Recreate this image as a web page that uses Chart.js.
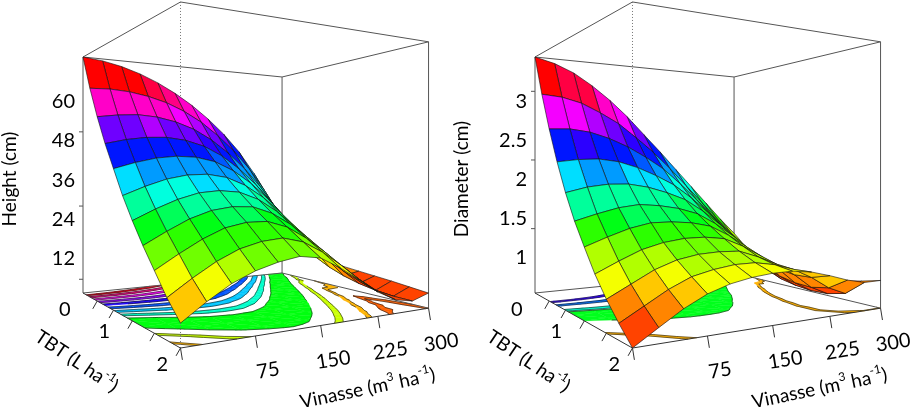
<!DOCTYPE html>
<html>
<head>
<meta charset="utf-8">
<title>Height and diameter response surfaces</title>
<script src="https://cdn.jsdelivr.net/npm/chart.js@4.4.1/dist/chart.umd.min.js"></script>
<style>
  html, body { margin: 0; padding: 0; background: #fff; }
  #wrap { position: relative; width: 913px; height: 407px; overflow: hidden; }
  .panel { position: absolute; top: 0; width: 461px; height: 407px; }
  .panel canvas { display: block; }
</style>
</head>
<body>
<div id="wrap">
  <div class="panel" style="left:0"><canvas id="heightChart" width="461" height="407"></canvas></div>
  <div class="panel" style="left:452px"><canvas id="diameterChart" width="461" height="407"></canvas></div>
</div>
<script>
// grid axes
const vinasse = [0, 25, 50, 75, 100, 125, 150, 175, 200, 225, 250, 275, 300];
const tbt = [0, 0.2, 0.4, 0.6, 0.8, 1.0, 1.2, 1.4, 1.6, 1.8, 2.0];

// plant height (cm): one row per TBT dose, one value per vinasse dose
const heightCm = [
  [73.4, 72.8, 71.6, 69.8, 67.4, 64.4, 60.8, 56.5, 51.5, 45.5, 38.0, 29.0, 20.0],
  [63.0, 63.2, 62.8, 61.8, 60.2, 57.8, 54.6, 50.4, 45.4, 39.4, 32.0, 23.5, 14.0],
  [54.0, 54.8, 55.2, 54.8, 53.6, 51.6, 48.5, 44.4, 39.4, 33.4, 26.2, 18.5, 10.5],
  [46.0, 47.3, 48.1, 48.3, 47.6, 46.0, 43.2, 39.2, 34.3, 28.4, 21.5, 14.0, 9.3],
  [39.0, 40.7, 42.0, 42.6, 42.4, 41.2, 38.6, 34.8, 30.0, 24.3, 17.8, 10.8, 8.6],
  [32.0, 34.3, 36.2, 37.3, 37.5, 36.6, 34.3, 30.7, 26.1, 20.7, 14.6, 8.4, 8.0],
  [26.0, 28.7, 31.0, 32.6, 33.1, 32.6, 30.5, 27.0, 22.6, 17.5, 12.0, 6.6, 7.5],
  [20.5, 23.6, 26.4, 28.3, 29.1, 28.9, 27.0, 23.7, 19.5, 14.6, 9.6, 5.3, 7.0],
  [15.5, 18.9, 22.0, 24.4, 25.5, 25.5, 23.8, 20.6, 16.6, 12.0, 7.6, 4.4, 6.5],
  [10.5, 14.2, 17.5, 20.0, 21.4, 21.9, 20.6, 17.6, 13.8, 9.6, 6.0, 3.9, 5.9],
  [6.4, 10.2, 13.5, 15.8, 17.3, 18.2, 17.4, 14.5, 11.0, 7.4, 4.8, 3.8, 5.3]
];

// stem diameter (cm), same layout
const diameterCm = [
  [3.56, 3.50, 3.40, 3.25, 3.07, 2.86, 2.62, 2.38, 2.13, 1.88, 1.63, 1.38, 1.15],
  [3.05, 3.03, 2.97, 2.86, 2.73, 2.55, 2.36, 2.14, 1.90, 1.66, 1.42, 1.19, 0.98],
  [2.60, 2.61, 2.58, 2.51, 2.41, 2.28, 2.13, 1.93, 1.71, 1.48, 1.25, 1.03, 0.87],
  [2.20, 2.23, 2.24, 2.21, 2.14, 2.04, 1.92, 1.75, 1.55, 1.33, 1.10, 0.88, 0.80],
  [1.85, 1.91, 1.94, 1.94, 1.90, 1.83, 1.74, 1.59, 1.41, 1.19, 0.96, 0.76, 0.76],
  [1.55, 1.62, 1.68, 1.71, 1.69, 1.65, 1.58, 1.45, 1.29, 1.07, 0.86, 0.68, 0.74],
  [1.30, 1.39, 1.47, 1.52, 1.52, 1.50, 1.45, 1.33, 1.18, 0.99, 0.78, 0.64, 0.73],
  [1.06, 1.17, 1.27, 1.33, 1.36, 1.36, 1.33, 1.23, 1.10, 0.93, 0.74, 0.62, 0.74],
  [0.86, 0.98, 1.10, 1.18, 1.22, 1.23, 1.22, 1.14, 1.04, 0.90, 0.73, 0.63, 0.76],
  [0.69, 0.82, 0.95, 1.05, 1.10, 1.13, 1.13, 1.09, 1.02, 0.91, 0.77, 0.68, 0.80],
  [0.535, 0.68, 0.82, 0.93, 1.00, 1.04, 1.06, 1.06, 1.03, 0.97, 0.90, 0.85, 0.85]
];

// box ranges of the vertical axis
const heightRange = [1.2, 73.4];
const diameterRange = [0.535, 3.56];

// axis ticks and labels
const vinasseTicks = [0, 75, 150, 225, 300];
const vinasseLabels = [75, 150, 225, 300];
const tbtTicks = [0.4, 0.8, 1.2, 1.6, 2.0];
const tbtLabels = [0, 1, 2];
const heightTicks = [5.4, 27.8, 50.5];
const heightLabels = [12, 24, 36, 48, 60];
const diameterTicks = [1.36, 2.24, 3.12];
const diameterLabels = [1, 1.5, 2, 2.5, 3];

// filled contour bands drawn on the floor (the rest of the floor stays white)
const heightFloorBands = [[5.0, 5.8], [8.6, 9.6], [14.0, 15.4], [19.5, 29.0], [31.5, 33.5], [36.0, 38.5],
                          [41.0, 43.5], [46.0, 48.5], [51.0, 53.5], [56.0, 58.5], [61.0, 63.5], [66.0, 68.5]];
const diameterFloorBands = [[0.84, 0.88], [1.30, 1.75], [1.80, 1.90], [2.15, 2.25], [2.45, 2.55]];

// perspective view of the unit box (projected units = css px of each panel)
const VIEW = { a1: 256.6, a2: 40.1, a3: 83, c1: 0.204, c2: -0.318, horizon: 175, half: 118 };
const FONT = 'Lato, "Open Sans", sans-serif';
const SURFACE_COLORS = 24;
const HUE_SPAN = 0.93;

function project(u, v, w) {
    const d = 1 + VIEW.c1 * u + VIEW.c2 * v;
    return {
        x: (VIEW.a1 * u + VIEW.a2 * v + VIEW.a3) / d,
        y: VIEW.horizon + VIEW.half * (1 - 2 * w) / d,
        d: d
    };
}

const uOf = V => (V - vinasse[0]) / (vinasse[vinasse.length - 1] - vinasse[0]);
const vOf = T => (T - tbt[0]) / (tbt[tbt.length - 1] - tbt[0]);
const clamp01 = f => Math.max(0, Math.min(1, f));

// rainbow from red (low) round to red (high)
function facetColor(frac) {
    const k = Math.min(SURFACE_COLORS - 1, Math.floor(clamp01(frac / HUE_SPAN) * SURFACE_COLORS));
    return `hsl(${360 * k / (SURFACE_COLORS - 1)}, 100%, 50%)`;
}
function bandColor(frac) {
    return `hsl(${360 * clamp01(frac / HUE_SPAN)}, 100%, 50%)`;
}

// keep the part of a polygon above (or below) a level of z
function clipLevel(poly, level, above) {
    const out = [];
    for (let k = 0; k < poly.length; k++) {
        const a = poly[k], b = poly[(k + 1) % poly.length];
        const ina = above ? a.z >= level : a.z <= level;
        const inb = above ? b.z >= level : b.z <= level;
        if (ina) out.push(a);
        if (ina !== inb) {
            const t = (level - a.z) / (b.z - a.z);
            out.push({ u: a.u + t * (b.u - a.u), v: a.v + t * (b.v - a.v), z: level });
        }
    }
    return out;
}

function drawRich(ctx, parts, x, y, angle, size) {
    const sup = Math.round(size * 0.62);
    let total = 0;
    parts.forEach(p => {
        ctx.font = `${p.sup ? sup : size}px ${FONT}`;
        p.w = ctx.measureText(p.t).width;
        total += p.w;
    });
    ctx.save();
    ctx.translate(x, y);
    ctx.rotate(angle);
    ctx.fillStyle = '#000';
    ctx.textAlign = 'left';
    ctx.textBaseline = 'middle';
    let cx = -total / 2;
    parts.forEach(p => {
        ctx.font = `${p.sup ? sup : size}px ${FONT}`;
        ctx.fillText(p.t, cx, p.sup ? -size * 0.36 : 0);
        cx += p.w;
    });
    ctx.restore();
}

function makeSurfacePlugin(panel) {
    return {
        id: 'surface3d',
        afterDraw(chart) {
            const ctx = chart.ctx;
            const sx = chart.scales.x, sy = chart.scales.y;
            const zLo = panel.range[0], zHi = panel.range[1];
            const wOf = z => (z - zLo) / (zHi - zLo);
            const P = (u, v, w) => {
                const p = project(u, v, w);
                return [sx.getPixelForValue(p.x), sy.getPixelForValue(p.y)];
            };
            const nodes = chart.getDatasetMeta(0).data;
            const nV = vinasse.length, nT = tbt.length;
            const node = (i, j) => ({ u: uOf(vinasse[j]), v: vOf(tbt[i]), z: panel.grid[i][j] });
            const line = (a, b, color, width, dash) => {
                ctx.beginPath();
                ctx.setLineDash(dash || []);
                ctx.strokeStyle = color;
                ctx.lineWidth = width;
                ctx.moveTo(a[0], a[1]);
                ctx.lineTo(b[0], b[1]);
                ctx.stroke();
                ctx.setLineDash([]);
            };

            ctx.save();
            ctx.lineJoin = 'round';

            // filled contour bands on the floor
            const tris = [];
            for (let i = 0; i < nT - 1; i++) {
                for (let j = 0; j < nV - 1; j++) {
                    const c = [node(i, j), node(i, j + 1), node(i + 1, j + 1), node(i + 1, j)];
                    tris.push([c[0], c[1], c[2]], [c[0], c[2], c[3]]);
                }
            }
            panel.floor.forEach(([lo, hi]) => {
                const col = bandColor(wOf((lo + hi) / 2));
                ctx.fillStyle = col;
                ctx.strokeStyle = col;
                ctx.lineWidth = 0.4;
                tris.forEach(tri => {
                    let poly = clipLevel(tri, lo, true);
                    if (poly.length < 3) return;
                    poly = clipLevel(poly, hi, false);
                    if (poly.length < 3) return;
                    ctx.beginPath();
                    poly.forEach((q, k) => {
                        const p = P(q.u, q.v, 0);
                        if (k) ctx.lineTo(p[0], p[1]); else ctx.moveTo(p[0], p[1]);
                    });
                    ctx.closePath();
                    ctx.fill();
                    ctx.stroke();
                });
            });
            ctx.strokeStyle = '#111';
            ctx.lineWidth = 0.6;
            ctx.beginPath();
            panel.floor.forEach(pair => pair.forEach(lev => {
                tris.forEach(tri => {
                    const pts = [];
                    for (let k = 0; k < 3; k++) {
                        const a = tri[k], c = tri[(k + 1) % 3];
                        if ((a.z - lev) * (c.z - lev) < 0) {
                            const t = (lev - a.z) / (c.z - a.z);
                            pts.push(P(a.u + t * (c.u - a.u), a.v + t * (c.v - a.v), 0));
                        }
                    }
                    if (pts.length === 2) {
                        ctx.moveTo(pts[0][0], pts[0][1]);
                        ctx.lineTo(pts[1][0], pts[1][1]);
                    }
                });
            }));
            ctx.stroke();

            // box
            const A = P(0, 0, 1), B = P(0, 1, 1), C = P(1, 1, 1), D = P(1, 0, 1);
            const A0 = P(0, 0, 0), B0 = P(0, 1, 0), C0 = P(1, 1, 0), D0 = P(1, 0, 0);
            const edge = '#555';
            [[A, A0], [D, D0], [C, C0], [A, B], [B, C], [C, D], [D, A], [A0, D0], [D0, C0]]
                .forEach(e => line(e[0], e[1], edge, 1));
            line(B, B0, '#777', 1, [1, 2]);

            // surface facets, far ones first
            const cells = [];
            for (let i = 0; i < nT - 1; i++) {
                for (let j = 0; j < nV - 1; j++) {
                    const uc = (uOf(vinasse[j]) + uOf(vinasse[j + 1])) / 2;
                    const vc = (vOf(tbt[i]) + vOf(tbt[i + 1])) / 2;
                    const zm = (panel.grid[i][j] + panel.grid[i][j + 1] +
                                panel.grid[i + 1][j] + panel.grid[i + 1][j + 1]) / 4;
                    cells.push({ i, j, zm, d: project(uc, vc, 0).d });
                }
            }
            cells.sort((a, b) => b.d - a.d);
            ctx.lineWidth = 0.6;
            ctx.strokeStyle = '#111';
            cells.forEach(c => {
                const k = [c.i * nV + c.j, c.i * nV + c.j + 1, (c.i + 1) * nV + c.j + 1, (c.i + 1) * nV + c.j];
                ctx.beginPath();
                k.forEach((n, m) => {
                    const el = nodes[n];
                    if (m) ctx.lineTo(el.x, el.y); else ctx.moveTo(el.x, el.y);
                });
                ctx.closePath();
                ctx.fillStyle = facetColor(wOf(c.zm));
                ctx.fill();
                ctx.stroke();
            });

            // front axes with ticks
            line(A0, B0, '#333', 1);
            line(B0, C0, '#333', 1);
            const unit = (a, b) => {
                const dx = b[0] - a[0], dy = b[1] - a[1], l = Math.hypot(dx, dy);
                return [dx / l, dy / l];
            };
            const tDir = unit(A0, B0), tPerp = [-tDir[1], tDir[0]];
            const vDir = unit(B0, C0), vPerp = [-vDir[1], vDir[0]];
            tbtTicks.forEach(t => {
                const p = P(0, vOf(t), 0);
                line(p, [p[0] + tPerp[0] * 9, p[1] + tPerp[1] * 9], '#333', 1);
            });
            vinasseTicks.forEach(V => {
                const p = P(uOf(V), 1, 0);
                line(p, [p[0] + vPerp[0] * 12, p[1] + vPerp[1] * 12], '#333', 1);
            });
            panel.ticks.forEach(z => {
                const p = P(0, 0, wOf(z));
                line(p, [p[0] - 4, p[1]], '#555', 1);
            });

            // tick labels
            ctx.fillStyle = '#000';
            ctx.font = `20px ${FONT}`;
            ctx.textAlign = 'right';
            ctx.textBaseline = 'middle';
            panel.labels.forEach(z => {
                const p = P(0, 0, wOf(z));
                ctx.fillText(String(z), p[0] - 8, p[1] + 1);
            });
            ctx.textAlign = 'center';
            tbtLabels.forEach(t => {
                const p = P(0, vOf(t), 0);
                ctx.fillText(String(t), p[0] + tPerp[0] * 23 - tDir[0] * 8, p[1] + tPerp[1] * 23 - tDir[1] * 8);
            });
            const vAngle = Math.atan2(vDir[1], vDir[0]);
            vinasseLabels.forEach(V => {
                const p = P(uOf(V), 1, 0);
                ctx.save();
                ctx.translate(p[0] + vPerp[0] * 36 + vDir[0] * 7, p[1] + vPerp[1] * 36 + vDir[1] * 7);
                ctx.rotate(vAngle);
                ctx.fillText(String(V), 0, 0);
                ctx.restore();
            });

            // axis titles
            const zMid = P(0, 0, 0.5);
            drawRich(ctx, [{ t: panel.title }], zMid[0] - 73, zMid[1] + 4, -Math.PI / 2, 19);
            const tMid = P(0, 0.5, 0);
            drawRich(ctx, [{ t: 'TBT (L ha' }, { t: '-1', sup: true }, { t: ')' }],
                tMid[0] - 46, tMid[1] + 46, 34 * Math.PI / 180, 19);
            const vMid = P(0.5, 1, 0);
            drawRich(ctx, [{ t: 'Vinasse (m' }, { t: '3', sup: true }, { t: ' ha' }, { t: '-1', sup: true }, { t: ')' }],
                vMid[0] + 47, vMid[1] + 63, -11.7 * Math.PI / 180, 19);

            ctx.restore();
        }
    };
}

function surfaceNodes(grid, range) {
    const pts = [];
    tbt.forEach((t, i) => {
        vinasse.forEach((V, j) => {
            const p = project(uOf(V), vOf(t), (grid[i][j] - range[0]) / (range[1] - range[0]));
            pts.push({ x: p.x, y: p.y });
        });
    });
    return pts;
}

const panels = [
    { id: 'heightChart', grid: heightCm, range: heightRange, ticks: heightTicks, labels: heightLabels,
      floor: heightFloorBands, title: 'Height (cm)' },
    { id: 'diameterChart', grid: diameterCm, range: diameterRange, ticks: diameterTicks, labels: diameterLabels,
      floor: diameterFloorBands, title: 'Diameter (cm)' }
];

panels.forEach(panel => {
    const ctx = document.getElementById(panel.id).getContext('2d');
    new Chart(ctx, {
        type: 'scatter',
        data: {
            datasets: [{
                data: surfaceNodes(panel.grid, panel.range),
                pointRadius: 0,
                pointHoverRadius: 0,
                showLine: false
            }]
        },
        options: {
            responsive: false,
            animation: false,
            events: [],
            layout: { padding: 0 },
            plugins: { legend: { display: false }, tooltip: { enabled: false } },
            scales: {
                x: { type: 'linear', min: 0, max: 461, display: false },
                y: { type: 'linear', min: 0, max: 407, reverse: true, display: false }
            }
        },
        plugins: [makeSurfacePlugin(panel)]
    });
});
</script>
</body>
</html>
